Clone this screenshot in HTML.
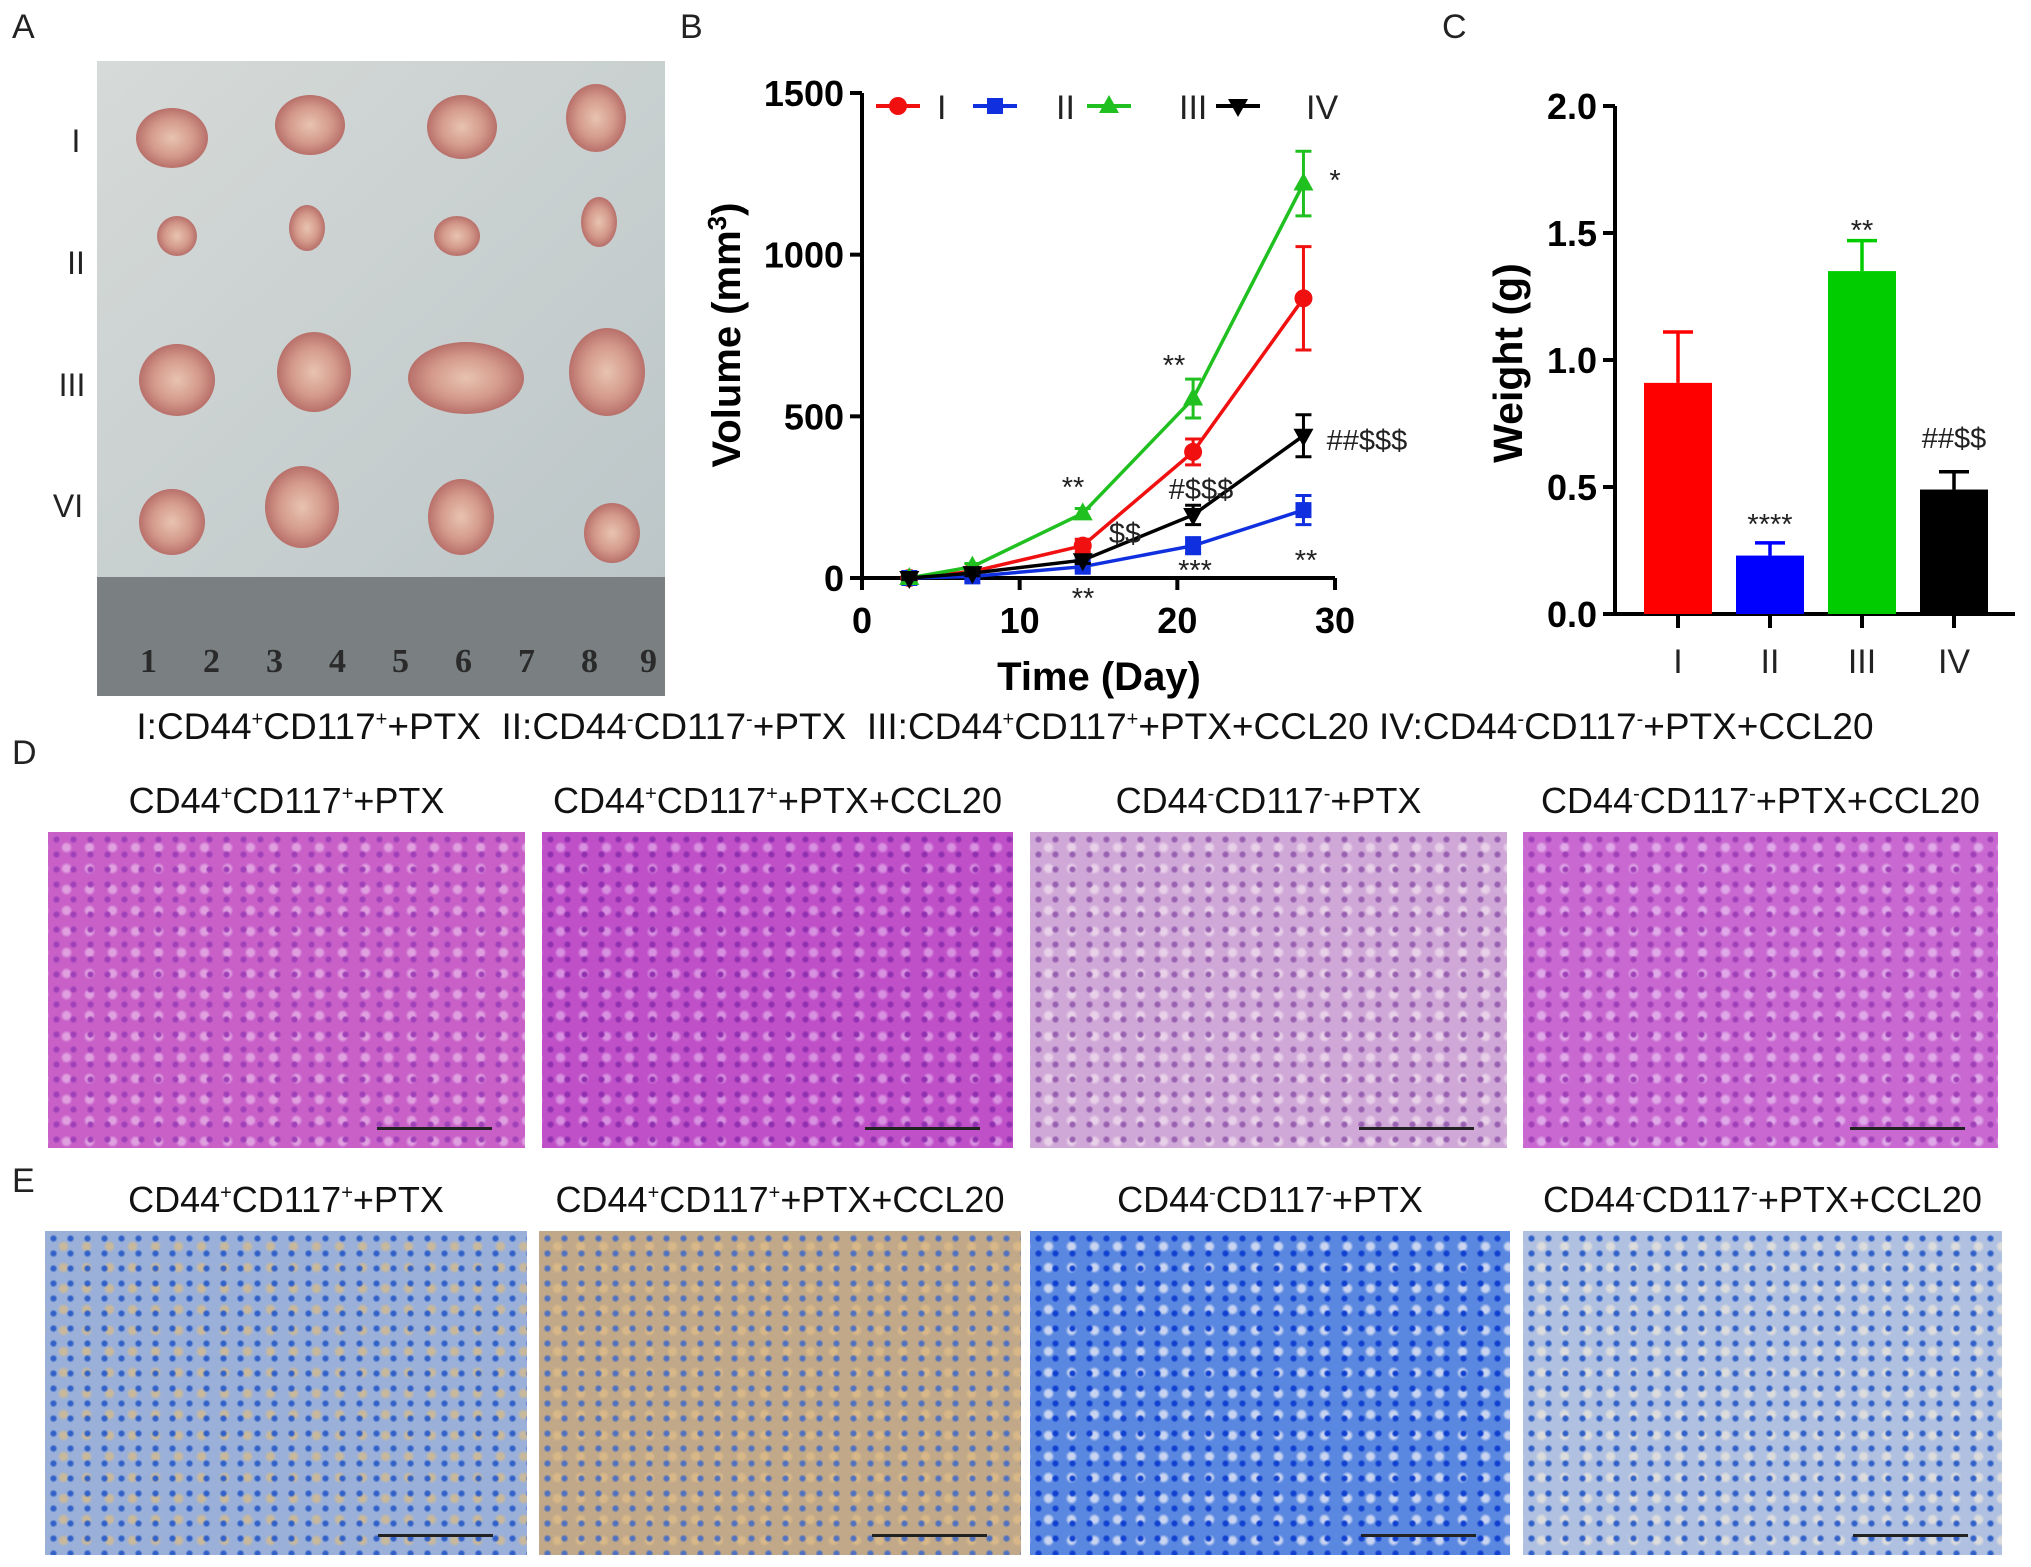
<!DOCTYPE html>
<html><head><meta charset="utf-8"><style>
body{margin:0;background:#fff;font-family:"Liberation Sans",Arial,sans-serif}
#wrap{position:relative;width:2031px;height:1567px;overflow:hidden}
.lbl{position:absolute;font-size:34px;color:#222}
.ttl{position:absolute;font-size:36px;color:#111;transform:translateX(-50%);white-space:nowrap}
.img{position:absolute}
</style></head><body>
<div id="wrap">
<div class="lbl" style="left:12px;top:8px">A</div>
<div class="lbl" style="left:680px;top:8px">B</div>
<div class="lbl" style="left:1442px;top:8px">C</div>
<div class="lbl" style="left:12px;top:734px">D</div>
<div class="lbl" style="left:12px;top:1162px">E</div>

<svg class="img" style="left:0;top:0" width="700" height="720">
<defs><radialGradient id="tg"><stop offset="0" stop-color="#e8c3b0"/><stop offset="0.6" stop-color="#d49a8c"/><stop offset="1" stop-color="#b8706a"/></radialGradient>
<linearGradient id="bg" x1="0" y1="0" x2="1" y2="1"><stop offset="0" stop-color="#d6dad8"/><stop offset="1" stop-color="#bcc6c8"/></linearGradient></defs>
<rect x="97" y="61" width="568" height="520" fill="url(#bg)"/>
<rect x="97" y="577" width="568" height="119" fill="#7a8082"/>
<g fill="#2a2a2a" font-family="Liberation Serif" font-size="34" font-weight="bold">
<text x="140" y="672">1</text><text x="203" y="672">2</text><text x="266" y="672">3</text><text x="329" y="672">4</text><text x="392" y="672">5</text><text x="455" y="672">6</text><text x="518" y="672">7</text><text x="581" y="672">8</text><text x="640" y="672">9</text></g>
<g fill="url(#tg)">
<ellipse cx="172" cy="138" rx="36" ry="30"/><ellipse cx="310" cy="125" rx="35" ry="30"/><ellipse cx="462" cy="127" rx="35" ry="32"/><ellipse cx="596" cy="118" rx="30" ry="34"/>
<ellipse cx="177" cy="236" rx="20" ry="20"/><ellipse cx="307" cy="228" rx="18" ry="23"/><ellipse cx="457" cy="236" rx="23" ry="20"/><ellipse cx="599" cy="222" rx="18" ry="25"/>
<ellipse cx="177" cy="380" rx="38" ry="36"/><ellipse cx="314" cy="372" rx="37" ry="40"/><ellipse cx="466" cy="378" rx="58" ry="36"/><ellipse cx="607" cy="372" rx="38" ry="44"/>
<ellipse cx="172" cy="522" rx="33" ry="33"/><ellipse cx="302" cy="507" rx="37" ry="41"/><ellipse cx="461" cy="517" rx="33" ry="38"/><ellipse cx="612" cy="533" rx="28" ry="30"/></g>
<g font-family="Liberation Sans" font-size="32" fill="#222" text-anchor="middle">
<text x="76" y="152">I</text><text x="76" y="274">II</text><text x="72" y="396">III</text><text x="68" y="517">VI</text></g>
</svg>

<svg id="chartB" class="img" style="left:680px;top:60px" width="760" height="650"></svg>
<svg id="chartC" class="img" style="left:1440px;top:60px" width="591" height="650"></svg>

<div class="ttl" style="left:1005px;top:706px;font-size:37px">I:CD44<sup style="font-size:20px">+</sup>CD117<sup style="font-size:20px">+</sup>+PTX&nbsp; II:CD44<sup style="font-size:20px">-</sup>CD117<sup style="font-size:20px">-</sup>+PTX&nbsp; III:CD44<sup style="font-size:20px">+</sup>CD117<sup style="font-size:20px">+</sup>+PTX+CCL20 IV:CD44<sup style="font-size:20px">-</sup>CD117<sup style="font-size:20px">-</sup>+PTX+CCL20</div>

<div id="histo"></div>
</div>
<script>
// ---- Panel B data ----
const days=[3,7,14,21,28];
const seriesI=[0,20,100,390,865];
const errI=[5,10,20,40,160];
const seriesII=[0,5,35,100,210];
const errII=[5,5,10,25,45];
const seriesIII=[0,35,200,555,1220];
const errIII=[5,10,15,60,100];
const seriesIV=[0,15,55,195,440];
const errIV=[5,8,10,30,65];
const xTicksB=[0,10,20,30];
const yTicksB=[0,500,1000,1500];
// ---- Panel C data ----
const groupsC=['I','II','III','IV'];
const weights=[0.91,0.23,1.35,0.49];
const weightErr=[0.2,0.05,0.12,0.07];
const yTicksC=[0.0,0.5,1.0,1.5,2.0];

const NS='http://www.w3.org/2000/svg';
function mk(p,t,a){const e=document.createElementNS(NS,t);for(const k in a)e.setAttribute(k,a[k]);p.appendChild(e);return e;}
function txt(p,x,y,s,a){const e=mk(p,'text',Object.assign({x:x,y:y,'font-family':'Liberation Sans, Arial, sans-serif'},a||{}));e.textContent=s;return e;}

// Chart B
const B=document.getElementById('chartB');
const bx=v=>182+(v/30)*473, by=v=>518-(v/1500)*485;
mk(B,'line',{x1:182,y1:by(0),x2:655,y2:by(0),stroke:'#000','stroke-width':4});
mk(B,'line',{x1:182,y1:by(0),x2:182,y2:by(1500),stroke:'#000','stroke-width':4});
xTicksB.forEach(t=>{const l=mk(B,'line',{x1:bx(t),y1:518,x2:bx(t),y2:530,stroke:'#000','stroke-width':4});

const e=txt(B,bx(t),573,t,{'font-size':36,'font-weight':'bold','text-anchor':'middle'});});
yTicksB.forEach(t=>{mk(B,'line',{x1:170,y1:by(t),x2:182,y2:by(t),stroke:'#000','stroke-width':4});
const e=txt(B,164,by(t)+13,t,{'font-size':36,'font-weight':'bold','text-anchor':'end'});});
const yt=txt(B,0,0,'Volume (mm',{'font-size':40,'font-weight':'bold','text-anchor':'middle',transform:'translate(60,275) rotate(-90)'});
const ts=mk(yt,'tspan',{'font-size':26,dy:-14});ts.textContent='3';const ts2=mk(yt,'tspan',{dy:14});ts2.textContent=')';

const xt=txt(B,419,630,'Time (Day)',{'font-size':40,'font-weight':'bold','text-anchor':'middle'});
function marker(p,x,y,type,c){
 if(type==='c')return mk(p,'circle',{cx:x,cy:y,r:9,fill:c});
 if(type==='s')return mk(p,'rect',{x:x-8,y:y-8,width:16,height:16,fill:c});
 if(type==='t')return mk(p,'polygon',{points:`${x},${y-11} ${x-10},${y+7} ${x+10},${y+7}`,fill:c});
 return mk(p,'polygon',{points:`${x},${y+11} ${x-10},${y-7} ${x+10},${y-7}`,fill:c});}
const SB=[['I',seriesI,errI,'#f01010','c'],['II',seriesII,errII,'#1030e0','s'],['III',seriesIII,errIII,'#20c020','t'],['IV',seriesIV,errIV,'#000','v']];
SB.forEach(([n,vals,errs,c,m])=>{
 const g=mk(B,'g',{});
 mk(g,'polyline',{points:vals.map((v,i)=>bx(days[i])+','+by(v)).join(' '),fill:'none',stroke:c,'stroke-width':3.5});
 vals.forEach((v,i)=>{const x=bx(days[i]);
  mk(g,'line',{x1:x,y1:by(v-errs[i]),x2:x,y2:by(v+errs[i]),stroke:c,'stroke-width':3});
  mk(g,'line',{x1:x-8,y1:by(v+errs[i]),x2:x+8,y2:by(v+errs[i]),stroke:c,'stroke-width':3});
  mk(g,'line',{x1:x-8,y1:by(v-errs[i]),x2:x+8,y2:by(v-errs[i]),stroke:c,'stroke-width':3});
  const mm=marker(g,x,by(v),m,c);});
});
const legX=[[218,257],[315,376],[429,499],[558,626]];
SB.forEach(([n,,,c,m],i)=>{const g=mk(B,'g',{});
 mk(g,'line',{x1:legX[i][0]-22,y1:46,x2:legX[i][0]+22,y2:46,stroke:c,'stroke-width':4});marker(g,legX[i][0],46,m,c);
 txt(g,legX[i][1],59,n,{'font-size':34,fill:'#222'});});
[['*',655,130],['**',494,315],['##$$$',687,390],['**',393,437],['#$$$',521,439],['$$',445,483],['***',515,520],['**',626,510],['**',403,548]].forEach(([s,x,y])=>{
 const e=txt(B,x,y,s,{'font-size':29,fill:'#222','text-anchor':'middle'});});

// Chart C
const C=document.getElementById('chartC');
const cy=v=>554-(v/2.0)*508;
const cx=i=>238+i*92;
mk(C,'line',{x1:175,y1:554,x2:575,y2:554,stroke:'#000','stroke-width':4});
mk(C,'line',{x1:175,y1:554,x2:175,y2:cy(2),stroke:'#000','stroke-width':4});
yTicksC.forEach(t=>{mk(C,'line',{x1:163,y1:cy(t),x2:175,y2:cy(t),stroke:'#000','stroke-width':4});
 const e=txt(C,157,cy(t)+13,t.toFixed(1),{'font-size':36,'font-weight':'bold','text-anchor':'end'});});
const cols=['#ff0000','#0000ff','#00cc00','#000000'];
groupsC.forEach((gname,i)=>{const x=cx(i);
 mk(C,'line',{x1:x,y1:554,x2:x,y2:568,stroke:'#000','stroke-width':4});
 const l=txt(C,x,613,gname,{'font-size':34,'text-anchor':'middle',fill:'#222'});
 const top=cy(weights[i]+weightErr[i]);
 mk(C,'line',{x1:x,y1:cy(weights[i]),x2:x,y2:top,stroke:cols[i],'stroke-width':3.5});
 mk(C,'line',{x1:x-15,y1:top,x2:x+15,y2:top,stroke:cols[i],'stroke-width':3.5});
 const r=mk(C,'rect',{x:x-34,y:cy(weights[i]),width:68,height:554-cy(weights[i]),fill:cols[i]});
 });
const wt=txt(C,0,0,'Weight (g)',{'font-size':41,'font-weight':'bold','text-anchor':'middle',transform:'translate(82,303) rotate(-90)'});

[['**',422,180],['****',330,474],['##$$',514,388]].forEach(([s,x,y])=>{const e=txt(C,x,y,s,{'font-size':29,fill:'#222','text-anchor':'middle'});});

// Histology
const H=document.getElementById('histo');
const titles=['CD44<sup>+</sup>CD117<sup>+</sup>+PTX','CD44<sup>+</sup>CD117<sup>+</sup>+PTX+CCL20','CD44<sup>-</sup>CD117<sup>-</sup>+PTX','CD44<sup>-</sup>CD117<sup>-</sup>+PTX+CCL20'];
const dBoxes=[[48,525],[542,1013],[1030,1507],[1523,1998]];
const eBoxes=[[45,527],[539,1021],[1030,1510],[1523,2002]];
const dCols=[['#c860c8','#a040b8','#e0a0e0'],['#c050c8','#9030b0','#d890e0'],['#d0a8d8','#9860b0','#e8d0e8'],['#c868d0','#a040b8','#e0a8e8']];
const eCols=[['#9ab0d8','#3060c8','#c8b89c'],['#c0a888','#5070c0','#d8b888'],['#5a88e0','#1040d0','#c8d4f0'],['#b0c0e0','#3060c8','#dcdcdc']];
function panel(box,y0,y1,c,name,tc){
 const d=document.createElement('div');d.className='img';
 
 d.style.cssText=`left:${box[0]}px;top:${y0}px;width:${box[1]-box[0]}px;height:${y1-y0}px;background-color:${c[0]};background-image:radial-gradient(circle,${c[1]} 2px,transparent 4px),radial-gradient(circle,${c[2]} 3px,transparent 6px);background-size:17px 15px,23px 21px;background-position:0 0,7px 5px;`;
 const sb=document.createElement('div');sb.style.cssText=`position:absolute;right:${(box[1]-box[0])*0.07}px;bottom:18px;width:115px;height:3px;background:#222`;
 d.appendChild(sb);H.appendChild(d);
 const t=document.createElement('div');t.className='ttl';t.innerHTML=tc;
 
 t.style.left=((box[0]+box[1])/2)+'px';t.style.top=(y0-52)+'px';
 t.querySelectorAll('sup').forEach(s=>s.style.fontSize='20px');H.appendChild(t);}
for(let i=0;i<4;i++){panel(dBoxes[i],832,1148,dCols[i],'he-image-'+(i+1),titles[i]);panel(eBoxes[i],1231,1555,eCols[i],'ihc-image-'+(i+1),titles[i]);}
</script>
</body></html>
